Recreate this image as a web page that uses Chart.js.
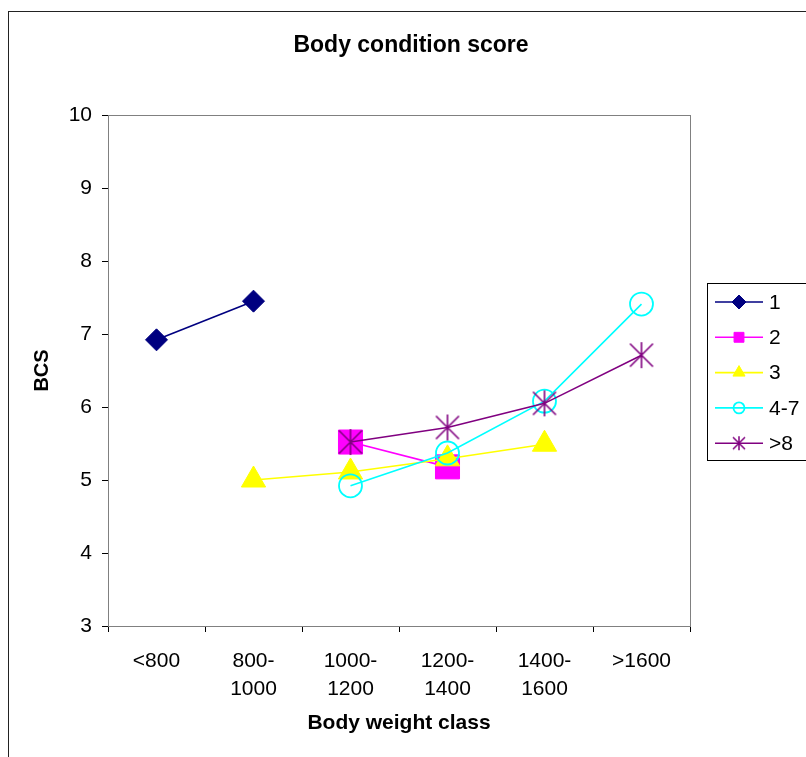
<!DOCTYPE html>
<html>
<head>
<meta charset="utf-8">
<script src="https://cdn.jsdelivr.net/npm/chart.js@4/dist/chart.umd.min.js"></script>
<style>
html,body{margin:0;padding:0;background:#fff;}
#c{display:block;}
</style>
</head>
<body>
<canvas id="c" width="806" height="757"></canvas>
<script>
const categories = ['<800', ['800-','1000'], ['1000-','1200'], ['1200-','1400'], ['1400-','1600'], '>1600'];
const seriesNames = ['1', '2', '3', '4-7', '>8'];
const s1   = [6.92, 7.45, null, null, null, null];
const s2   = [null, null, 5.52, 5.18, null, null];
const s3   = [null, 5.00, 5.11, 5.29, 5.49, null];
const s47  = [null, null, 4.92, 5.37, 6.08, 7.41];
const s8   = [null, null, 5.52, 5.72, 6.05, 6.71];
const yTicks = [3, 4, 5, 6, 7, 8, 9, 10];
const chartTitle = 'Body condition score';
const xTitle = 'Body weight class';
const yTitle = 'BCS';

const FONT = '"Liberation Sans", Arial, sans-serif';

function makeStar(half, vhalf, color, lw) {
  const size = Math.ceil(Math.max(half, vhalf) * 2 + 4);
  const cv = document.createElement('canvas');
  cv.width = size; cv.height = size;
  const c = cv.getContext('2d');
  const m = size / 2;
  c.strokeStyle = color;
  c.lineWidth = lw;
  c.beginPath();
  c.moveTo(m - half, m - half); c.lineTo(m + half, m + half);
  c.moveTo(m + half, m - half); c.lineTo(m - half, m + half);
  c.moveTo(m, m - vhalf); c.lineTo(m, m + vhalf);
  c.stroke();
  return cv;
}
const starBig = makeStar(11.5, 13, '#800080', 1.6);
const starSmall = makeStar(6, 7, '#800080', 1.5);

const styles = [
  {color:'#000080', pointStyle:'rectRot', radius:11, fill:'#000080', lr:7},
  {color:'#FF00FF', pointStyle:'rect', radius:17, fill:'#FF00FF', lr:7},
  {color:'#FFFF00', pointStyle:'triangle', radius:14, fill:'#FFFF00', lr:7},
  {color:'#00FFFF', pointStyle:'circle', radius:11.5, fill:'rgba(0,0,0,0)', lr:5.5},
  {color:'#800080', pointStyle:starBig, radius:12, fill:'#800080', lr:6, legendStyle:starSmall}
];
const seriesData = [s1, s2, s3, s47, s8];

const datasets = seriesData.map((d, i) => ({
  label: seriesNames[i],
  data: d,
  borderColor: styles[i].color,
  backgroundColor: styles[i].fill,
  borderWidth: 1.6,
  pointStyle: styles[i].pointStyle,
  pointRadius: styles[i].radius,
  pointHoverRadius: styles[i].radius,
  pointBorderColor: styles[i].color,
  pointBackgroundColor: styles[i].fill,
  pointBorderWidth: (i === 3 ? 1.8 : 1),
  tension: 0,
  spanGaps: false,
  order: seriesData.length - i,
  legendRadius: styles[i].lr,
  legendStyle: styles[i].legendStyle || styles[i].pointStyle
}));

const decor = {
  id: 'decor',
  beforeDatasetsDraw(chart) {
    const ctx = chart.ctx, a = chart.chartArea;
    ctx.save();
    ctx.strokeStyle = '#808080';
    ctx.lineWidth = 1;
    ctx.strokeRect(a.left + 0.5, a.top + 0.5, a.right - a.left, a.bottom - a.top);
    ctx.restore();
  },
  afterDraw(chart) {
    const ctx = chart.ctx;
    ctx.save();
    ctx.strokeStyle = '#222';
    ctx.lineWidth = 1;
    ctx.strokeRect(8.5, 11.5, 900, 900);
    ctx.fillStyle = '#000';
    ctx.font = 'bold 23px ' + FONT;
    ctx.textAlign = 'center';
    ctx.textBaseline = 'middle';
    ctx.fillText(chartTitle, 411, 46);
    const lx = 707.5, ly = 283.5;
    ctx.strokeStyle = '#000';
    ctx.lineWidth = 1;
    ctx.strokeRect(lx, ly, 200, 177);
    chart.data.datasets.forEach((ds, i) => {
      const y = 302 + i * 35.3;
      ctx.strokeStyle = ds.borderColor;
      ctx.lineWidth = 1.6;
      ctx.beginPath();
      ctx.moveTo(715, y);
      ctx.lineTo(763, y);
      ctx.stroke();
      ctx.fillStyle = ds.pointBackgroundColor;
      ctx.strokeStyle = ds.pointBorderColor;
      ctx.lineWidth = ds.pointBorderWidth;
      Chart.helpers.drawPoint(ctx, {pointStyle: ds.legendStyle, radius: ds.legendRadius, rotation: 0, borderWidth: ds.pointBorderWidth}, 739, y);
      ctx.fillStyle = '#000';
      ctx.font = '21px ' + FONT;
      ctx.textAlign = 'left';
      ctx.textBaseline = 'middle';
      ctx.fillText(ds.label, 769, y + 1);
    });
    ctx.restore();
  }
};

new Chart(document.getElementById('c'), {
  type: 'line',
  data: { labels: categories, datasets: datasets },
  options: {
    responsive: false,
    animation: false,
    devicePixelRatio: 1,
    layout: { padding: { top: 115, right: 116, left: 0, bottom: 0 } },
    plugins: {
      legend: { display: false },
      title: { display: false },
      tooltip: { enabled: false }
    },
    scales: {
      x: {
        type: 'category',
        offset: true,
        afterFit(s) { s.height = 131; },
        grid: { offset: true, drawOnChartArea: false, drawTicks: true, tickLength: 6, color: '#000', tickWidth: 1 },
        border: { display: true, color: '#000', width: 1 },
        ticks: { color: '#000', font: { family: FONT, size: 21, lineHeight: 1.3 }, padding: 16, maxRotation: 0, autoSkip: false },
        title: { display: true, text: xTitle, color: '#000', font: { family: FONT, size: 21, weight: 'bold', lineHeight: 1.2 }, padding: { top: 0, bottom: 21 } }
      },
      y: {
        min: 3, max: 10,
        afterFit(s) { s.width = 108; },
        afterBuildTicks(s) { s.ticks = yTicks.map(v => ({ value: v })); },
        grid: { drawOnChartArea: false, drawTicks: true, tickLength: 6, color: '#000' },
        border: { display: true, color: '#000', width: 1 },
        ticks: { color: '#000', font: { family: FONT, size: 21 }, padding: 10, stepSize: 1 },
        title: { display: true, text: yTitle, color: '#000', font: { family: FONT, size: 20, weight: 'bold', lineHeight: 1.2 }, padding: { top: 30, bottom: 0 } }
      }
    }
  },
  plugins: [decor]
});
</script>
</body>
</html>
